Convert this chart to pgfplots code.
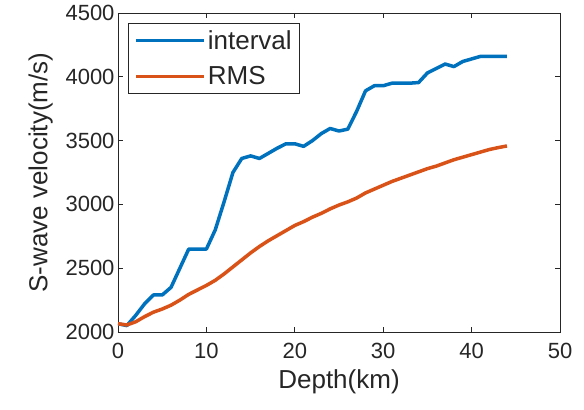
\documentclass[border=0pt]{standalone}
\usepackage{fontspec}
\setmainfont{Liberation Sans}
\usepackage{pgfplots}
\pgfplotsset{compat=1.18}
\definecolor{mblue}{RGB}{0,114,189}
\definecolor{morange}{RGB}{217,83,25}
\definecolor{mgray}{RGB}{38,38,38}
\begin{document}
\begin{tikzpicture}
\begin{axis}[
  name=ax,
  scale only axis, width=442bp, height=319bp,
  xmin=0, xmax=50, ymin=2000, ymax=4500,
  xtick={0,10,...,50}, ytick={2000,2500,...,4500},
  tick align=inside, major tick length=5bp,
  axis line style={mgray, line width=0.8bp},
  every tick/.style={mgray, line width=0.8bp},
  tick label style={font=\fontsize{22bp}{26bp}\selectfont, text=mgray},
  xticklabel style={yshift=-8bp},
  label style={font=\fontsize{26bp}{31bp}\selectfont, text=mgray},
  xlabel style={yshift=-4bp},
  ylabel style={yshift=6bp},
  /pgf/number format/assume math mode=true,
  /pgf/number format/1000 sep={},
  xlabel={Depth(km)}, ylabel={S-wave velocity(m/s)},
  legend style={at={(0,1)}, anchor=north west, xshift=10bp, yshift=-10bp,
    draw=mgray, line width=0.8bp, font=\fontsize{26bp}{30bp}\selectfont, text=mgray,
    inner xsep=6bp, inner ysep=5bp, row sep=12bp},
  legend cell align=left,
  legend image code/.code={\draw[#1, line width=3.5bp] (0bp,0bp) -- (68bp,0bp);},
]
\addplot[mblue, line width=3.5bp, line join=round] coordinates {
(0,2065)(1,2050)(2,2130)(3,2220)(4,2290)(5,2290)(6,2350)(7,2500)(8,2650)(9,2650)
(10,2650)(11,2800)(12,3020)(13,3250)(14,3360)(15,3380)(16,3360)(17,3400)(18,3440)(19,3475)
(20,3475)(21,3455)(22,3500)(23,3555)(24,3595)(25,3575)(26,3590)(27,3730)(28,3890)(29,3930)
(30,3930)(31,3950)(32,3950)(33,3950)(34,3955)(35,4030)(36,4065)(37,4100)(38,4080)(39,4120)
(40,4140)(41,4160)(42,4160)(43,4160)(44,4160)};
\addlegendentry{interval}
\addplot[morange, line width=3.5bp, line join=round] coordinates {
(0,2065)(1,2055)(2,2080)(3,2120)(4,2155)(5,2180)(6,2210)(7,2250)(8,2295)(9,2330)
(10,2365)(11,2405)(12,2455)(13,2510)(14,2565)(15,2620)(16,2670)(17,2715)(18,2755)(19,2795)
(20,2835)(21,2865)(22,2900)(23,2930)(24,2965)(25,2995)(26,3020)(27,3050)(28,3090)(29,3120)
(30,3150)(31,3180)(32,3205)(33,3230)(34,3255)(35,3280)(36,3300)(37,3325)(38,3350)(39,3370)
(40,3390)(41,3410)(42,3430)(43,3445)(44,3458)};
\addlegendentry{RMS}
\end{axis}
\path[use as bounding box] ([xshift=-118bp,yshift=-78bp]ax.south west) rectangle ([xshift=24bp,yshift=13bp]ax.north east);
\end{tikzpicture}
\end{document}
